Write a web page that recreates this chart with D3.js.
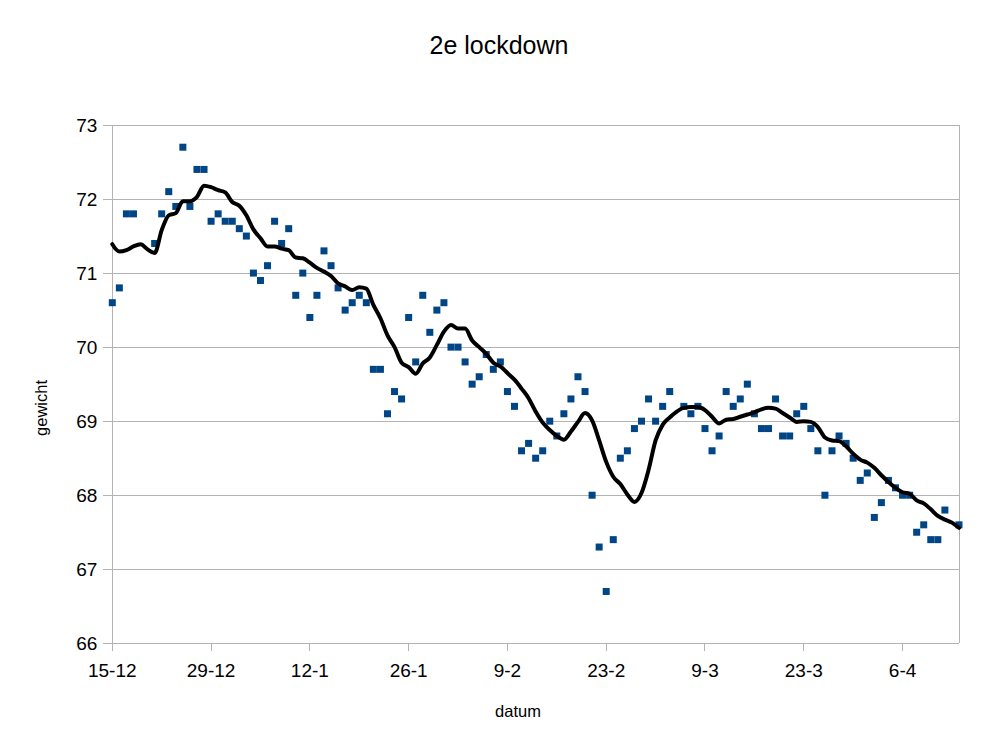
<!DOCTYPE html>
<html>
<head>
<meta charset="utf-8">
<script src="https://cdn.jsdelivr.net/npm/d3@7"></script>
<style>
  html, body { margin: 0; padding: 0; background: #ffffff; }
  svg { display: block; font-family: "Liberation Sans", Arial, sans-serif; }
</style>
</head>
<body>
<svg id="chart" width="999" height="751"></svg>
<script>
// ---- data ----
const title = "2e lockdown";
const xTitle = "datum";
const yTitle = "gewicht";
const startDate = "2020-12-15";
const endDate = "2021-04-14";
// daily weight measurements from startDate (null = no measurement)
const weights = [
  70.6, 70.8, 71.8, 71.8, null, null, 71.4, 71.8, 72.1, 71.9,
  72.7, 71.9, 72.4, 72.4, 71.7, 71.8, 71.7, 71.7, 71.6, 71.5,
  71.0, 70.9, 71.1, 71.7, 71.4, 71.6, 70.7, 71.0, 70.4, 70.7,
  71.3, 71.1, 70.8, 70.5, 70.6, 70.7, 70.6, 69.7, 69.7, 69.1,
  69.4, 69.3, 70.4, 69.8, 70.7, 70.2, 70.5, 70.6, 70.0, 70.0,
  69.8, 69.5, 69.6, 69.9, 69.7, 69.8, 69.4, 69.2, 68.6, 68.7,
  68.5, 68.6, 69.0, 68.8, 69.1, 69.3, 69.6, 69.4, 68.0, 67.3,
  66.7, 67.4, 68.5, 68.6, 68.9, 69.0, 69.3, 69.0, 69.2, 69.4,
  null, 69.2, 69.1, 69.2, 68.9, 68.6, 68.8, 69.4, 69.2, 69.3,
  69.5, 69.1, 68.9, 68.9, 69.3, 68.8, 68.8, 69.1, 69.2, 68.9,
  68.6, 68.0, 68.6, 68.8, 68.7, 68.5, 68.2, 68.3, 67.7, 67.9,
  68.2, 68.1, 68.0, 68.0, 67.5, 67.6, 67.4, 67.4, 67.8, null,
  67.6
];
// daily moving-average trend line from startDate
const trend = [
  71.39, 71.29, 71.31, 71.36, 71.39, 71.32, 71.27, 71.58, 71.78, 71.81,
  71.97, 71.97, 72.03, 72.18, 72.16, 72.12, 72.09, 71.96, 71.91, 71.78,
  71.59, 71.47, 71.36, 71.36, 71.33, 71.31, 71.21, 71.20, 71.14, 71.07,
  71.02, 70.96, 70.86, 70.82, 70.77, 70.81, 70.79, 70.57, 70.39, 70.16,
  70.00, 69.79, 69.73, 69.64, 69.78, 69.86, 70.03, 70.21, 70.30, 70.25,
  70.25, 70.09, 70.00, 69.91, 69.79, 69.74, 69.65, 69.56, 69.44, 69.31,
  69.13, 68.98, 68.88, 68.80, 68.75, 68.86, 68.99, 69.11, 69.01, 68.74,
  68.45, 68.25, 68.15, 68.01, 67.91, 68.03, 68.34, 68.74, 68.95, 69.05,
  69.13, 69.18, 69.19, 69.19, 69.15, 69.06, 68.97, 69.02, 69.03, 69.06,
  69.09, 69.12, 69.16, 69.18, 69.17, 69.11, 69.05, 68.99, 69.00, 68.99,
  68.92, 68.78, 68.74, 68.73, 68.66, 68.56, 68.48, 68.44, 68.37, 68.27,
  68.18, 68.10, 68.04, 68.02, 67.93, 67.89, 67.81, 67.72, 67.67, 67.63,
  67.56
];
const xTickDates = ["2020-12-15", "2020-12-29", "2021-01-12", "2021-01-26",
  "2021-02-09", "2021-02-23", "2021-03-09", "2021-03-23", "2021-04-06"];
const yTicks = [66, 67, 68, 69, 70, 71, 72, 73];

// ---- layout ----
const svg = d3.select("#chart");
const pL = 112.3, pR = 959, pT = 125, pB = 643.3;
const parse = d3.utcParse("%Y-%m-%d");
const t0 = parse(startDate);
const dayAt = i => d3.utcDay.offset(t0, i);

const x = d3.scaleUtc().domain([t0, parse(endDate)]).range([pL, pR]);
const y = d3.scaleLinear().domain([66, 73]).range([pB, pT]);
const gridColor = "#b3b3b3";

// horizontal gridlines
svg.append("g").selectAll("line").data(yTicks).join("line")
  .attr("x1", pL - 9).attr("x2", pR)
  .attr("y1", d => y(d)).attr("y2", d => y(d))
  .attr("stroke", gridColor).attr("stroke-width", 1)
  .attr("shape-rendering", "crispEdges");

// left axis & right frame
svg.append("line").attr("x1", pL).attr("x2", pL).attr("y1", pT).attr("y2", pB)
  .attr("stroke", gridColor).attr("shape-rendering", "crispEdges");
svg.append("line").attr("x1", pR).attr("x2", pR).attr("y1", pT).attr("y2", pB)
  .attr("stroke", gridColor).attr("shape-rendering", "crispEdges");

// y tick labels
svg.append("g").selectAll("text").data(yTicks).join("text")
  .attr("x", pL - 15).attr("y", d => y(d))
  .attr("dy", "0.36em")
  .attr("text-anchor", "end")
  .attr("font-size", 19)
  .attr("fill", "#000")
  .text(d => d);

// x ticks and labels
const xt = xTickDates.map(parse);
svg.append("g").selectAll("line").data(xt).join("line")
  .attr("x1", d => x(d)).attr("x2", d => x(d))
  .attr("y1", pB).attr("y2", pB + 8)
  .attr("stroke", gridColor).attr("shape-rendering", "crispEdges");
const fmt = d3.utcFormat("%-d-%-m");
svg.append("g").selectAll("text").data(xt).join("text")
  .attr("x", d => x(d)).attr("y", 677)
  .attr("text-anchor", "middle")
  .attr("font-size", 19)
  .attr("fill", "#000")
  .text(d => fmt(d));

// points
const pts = weights.map((v, i) => ({ date: dayAt(i), v })).filter(d => d.v !== null);
const s = 7;
svg.append("g").selectAll("rect").data(pts).join("rect")
  .attr("x", d => x(d.date) - s / 2)
  .attr("y", d => y(d.v) - s / 2)
  .attr("width", s).attr("height", s)
  .attr("fill", "#004586");

// trend line
const tl = trend.map((v, i) => ({ date: dayAt(i), v }));
svg.append("path").datum(tl)
  .attr("d", d3.line().x(d => x(d.date)).y(d => y(d.v)).curve(d3.curveMonotoneX))
  .attr("fill", "none").attr("stroke", "#000").attr("stroke-width", 4)
  .attr("stroke-linejoin", "round").attr("stroke-linecap", "round");

// titles
svg.append("text").attr("x", 499).attr("y", 54).attr("text-anchor", "middle")
  .attr("font-size", 25).attr("fill", "#000").text(title);
svg.append("text").attr("x", 518).attr("y", 717).attr("text-anchor", "middle")
  .attr("font-size", 16.5).attr("fill", "#000").text(xTitle);
svg.append("text").attr("transform", "translate(47,408) rotate(-90)")
  .attr("text-anchor", "middle")
  .attr("font-size", 16.5).attr("fill", "#000").text(yTitle);
</script>
</body>
</html>
